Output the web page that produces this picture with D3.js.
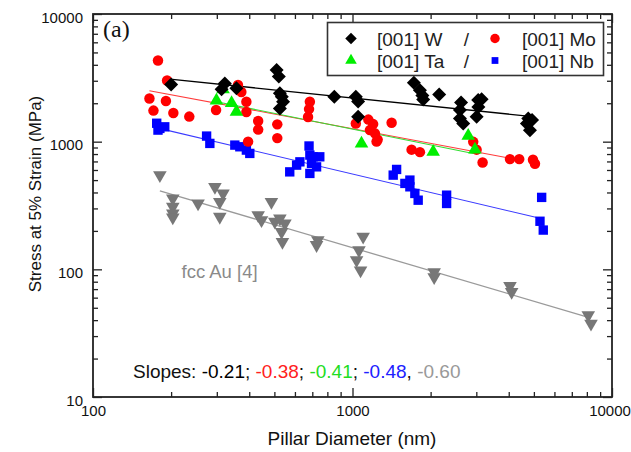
<!DOCTYPE html>
<html>
<head>
<meta charset="utf-8">
<script src="https://cdn.jsdelivr.net/npm/d3@7"></script>
<style>
  html, body { margin: 0; padding: 0; background: #fff; }
  svg { display: block; font-family: "Liberation Sans", Arial, Helvetica, sans-serif; }
</style>
</head>
<body>
<svg id="chart" width="631" height="452"></svg>
<script>
// ---- Data: pillar diameter (nm) vs. stress at 5% strain (MPa) ----
const wDiameter  = [200, 322, 313, 357, 510, 520, 525, 534, 540, 525, 851, 1030, 1051, 1051, 1724, 1819, 1859, 1872, 2158, 2620, 2594, 2594, 2671, 3051, 3145, 3008, 3055, 4757, 4920, 4700, 4829];
const wStress    = [2800, 2860, 2570, 2615, 3640, 3240, 2390, 2250, 2050, 1820, 2250, 2250, 2065, 1565, 2900, 2525, 2295, 2140, 2340, 2025, 1770, 1520, 1385, 2120, 2150, 1570, 1865, 1520, 1480, 1390, 1230];

const moDiameter = [178, 193, 165, 171, 191, 204, 235, 298, 362, 373, 390, 390, 433, 433, 396, 513, 513, 685, 680, 674, 1030, 1151, 1201, 1167, 1220, 1250, 1238, 1415, 1689, 1819, 2919, 3008, 3172, 4044, 4391, 4960, 5048];
const moStress   = [4320, 3010, 2176, 1752, 2080, 1676, 1572, 1768, 2776, 2446, 2053, 1706, 1450, 1243, 1001, 1366, 1066, 2053, 1800, 1560, 1386, 1489, 1373, 1232, 1162, 1038, 1001, 1405, 866, 828, 997, 866, 687, 730, 730, 722, 672];

const taDiameter = [299, 317, 342, 357, 1083, 2046, 2792, 2963];
const taStress   = [2099, 2568, 2006, 1715, 966, 833, 1112, 866];

const nbDiameter = [176, 181, 189, 178, 274, 282, 352, 368, 390, 402, 573, 609, 627, 680, 685, 705, 748, 695, 727, 685, 1479, 1435, 1592, 1664, 1664, 1739, 1791, 2305, 2305, 5357, 5278, 5434];
const nbStress   = [1394, 1270, 1307, 1232, 1106, 969, 940, 912, 859, 809, 580, 655, 695, 925, 785, 761, 761, 676, 635, 564, 606, 547, 471, 500, 443, 393, 348, 381, 328, 366, 238, 203];

const auDiameter = [181, 203, 203, 203, 203, 254, 295, 317, 308, 308, 433, 446, 487, 502, 525, 549, 533, 537, 727, 735, 1099, 1059, 1037, 1074, 2064, 2064, 4044, 4105, 8101, 8299];
const auStress   = [547, 359, 309, 274, 255, 328, 443, 393, 338, 258, 266, 243, 338, 236, 250, 229, 196, 164, 155, 169, 180, 141, 118, 98, 95, 87, 74, 66.5, 43.7, 37.6];

// Power-law fits: exponent, diameter range and stress at the first diameter
const fitNames   = ["W", "Mo", "Ta", "Nb", "Au"];
const fitSlopes  = [-0.21, -0.38, -0.41, -0.48, -0.60];
const fitStartD  = [198, 165, 299, 192, 181];
const fitEndD    = [5050, 4000, 2920, 5130, 8300];
const fitStartS  = [3090, 2505, 2057, 1232, 412];

// Axis ticks
const xMajorTicks = [100, 1000, 10000];
const xMinorTicks = [200, 300, 400, 500, 600, 700, 800, 900, 2000, 3000, 4000, 5000, 6000, 7000, 8000, 9000];
const yMajorTicks = [10, 100, 1000, 10000];
const yMinorTicks = [20, 30, 40, 50, 60, 70, 80, 90, 200, 300, 400, 500, 600, 700, 800, 900, 2000, 3000, 4000, 5000, 6000, 7000, 8000, 9000];

// ---- Layout & styling ----
const plot = { left: 93, right: 612, top: 14, bottom: 397 };
const style = {
  W:  { fill: "#000000", line: "#000000", lw: 1.3 },
  Mo: { fill: "#ff0000", line: "#ff3b3b", lw: 1.1 },
  Ta: { fill: "#00ee00", line: "#33dd33", lw: 1.1 },
  Nb: { fill: "#0000ff", line: "#3a3aff", lw: 1.1 },
  Au: { fill: "#777777", line: "#9a9a9a", lw: 1.3 }
};
const slopeColors = ["#000000", "#ff2020", "#22dd22", "#2020ff", "#999999"];

const svg = d3.select("#chart");
const x = d3.scaleLog().domain([100, 10000]).range([plot.left, plot.right]);
const y = d3.scaleLog().domain([10, 10000]).range([plot.bottom, plot.top]);

// ---- Axes (ticks pointing inward on all four sides) ----
function styleAxis(g) {
  g.select(".domain").remove();
  g.selectAll(".tick line").attr("stroke", "#222").attr("stroke-width", 1.3);
  g.selectAll(".tick text").attr("fill", "#111").style("font-size", "15px")
    .style("font-family", '"Liberation Sans", Arial, sans-serif');
}
const fmt = d3.format("d");

const xBottom = svg.append("g").attr("transform", `translate(0,${plot.bottom})`)
  .call(d3.axisBottom(x).tickValues(xMajorTicks).tickSize(-9).tickPadding(8).tickFormat(fmt)).call(styleAxis);
// keep the last label inside the canvas edge
xBottom.selectAll(".tick text").filter(d => d === 10000).attr("dx", -2.5);
svg.append("g").attr("transform", `translate(0,${plot.bottom})`)
  .call(d3.axisBottom(x).tickValues(xMinorTicks).tickSize(-5).tickFormat("")).call(styleAxis);
svg.append("g").attr("transform", `translate(0,${plot.top})`)
  .call(d3.axisTop(x).tickValues(xMajorTicks).tickSize(-9).tickFormat("")).call(styleAxis);
svg.append("g").attr("transform", `translate(0,${plot.top})`)
  .call(d3.axisTop(x).tickValues(xMinorTicks).tickSize(-5).tickFormat("")).call(styleAxis);

const yLeft = svg.append("g").attr("transform", `translate(${plot.left},0)`)
  .call(d3.axisLeft(y).tickValues(yMajorTicks).tickSize(-9).tickPadding(10).tickFormat(fmt)).call(styleAxis);
yLeft.selectAll(".tick text").attr("dy", "0.55em");
svg.append("g").attr("transform", `translate(${plot.left},0)`)
  .call(d3.axisLeft(y).tickValues(yMinorTicks).tickSize(-5).tickFormat("")).call(styleAxis);
svg.append("g").attr("transform", `translate(${plot.right},0)`)
  .call(d3.axisRight(y).tickValues(yMajorTicks).tickSize(-9).tickFormat("")).call(styleAxis);
svg.append("g").attr("transform", `translate(${plot.right},0)`)
  .call(d3.axisRight(y).tickValues(yMinorTicks).tickSize(-5).tickFormat("")).call(styleAxis);

// Frame
svg.append("rect")
  .attr("x", plot.left).attr("y", plot.top)
  .attr("width", plot.right - plot.left).attr("height", plot.bottom - plot.top)
  .attr("fill", "none").attr("stroke", "#222").attr("stroke-width", 1.8);

// ---- Fit lines ----
const fits = fitNames.map((name, i) => {
  const d0 = fitStartD[i], d1 = fitEndD[i], s0 = fitStartS[i];
  return { name, pts: [[d0, s0], [d1, s0 * Math.pow(d1 / d0, fitSlopes[i])]] };
});
svg.append("g").selectAll("line").data(fits).join("line")
  .attr("x1", f => x(f.pts[0][0])).attr("y1", f => y(f.pts[0][1]))
  .attr("x2", f => x(f.pts[1][0])).attr("y2", f => y(f.pts[1][1]))
  .attr("stroke", f => style[f.name].line)
  .attr("stroke-width", f => style[f.name].lw);

// ---- Markers ----
const zip = (ds, ss) => ds.map((d, i) => ({ d, s: ss[i] }));
const series = [
  { name: "Au", pts: zip(auDiameter, auStress), sym: d3.symbolTriangle, size: 80, rot: 180 },
  { name: "Nb", pts: zip(nbDiameter, nbStress), sym: d3.symbolSquare, size: 88, rot: 0 },
  { name: "Mo", pts: zip(moDiameter, moStress), sym: d3.symbolCircle, size: 86, rot: 0 },
  { name: "Ta", pts: zip(taDiameter, taStress), sym: d3.symbolTriangle, size: 80, rot: 0 },
  { name: "W",  pts: zip(wDiameter, wStress),  sym: d3.symbolSquare, size: 98, rot: 45 }
];
series.forEach(sr => {
  svg.append("g").selectAll("path").data(sr.pts).join("path")
    .attr("d", d3.symbol().type(sr.sym).size(sr.size))
    .attr("transform", p => `translate(${x(p.d)},${y(p.s)}) rotate(${sr.rot})`)
    .attr("fill", style[sr.name].fill);
});

// ---- Legend ----
const lg = svg.append("g");
lg.append("rect").attr("x", 327.5).attr("y", 22.5).attr("width", 276).attr("height", 53)
  .attr("fill", "#fff").attr("stroke", "#333").attr("stroke-width", 1.6);
const legendRows = [
  [{ name: "W", label: "[001] W", sym: d3.symbolSquare, size: 66, rot: 45 },
   { name: "Mo", label: "[001] Mo", sym: d3.symbolCircle, size: 70, rot: 0 }],
  [{ name: "Ta", label: "[001] Ta", sym: d3.symbolTriangle, size: 58, rot: 0 },
   { name: "Nb", label: "[001] Nb", sym: d3.symbolSquare, size: 46, rot: 0 }]
];
const rowY = [38.5, 60.5];
legendRows.forEach((row, r) => {
  row.forEach((item, c) => {
    const sx = c === 0 ? 351 : 495;
    const tx = c === 0 ? 377 : 522;
    lg.append("path").attr("d", d3.symbol().type(item.sym).size(item.size))
      .attr("transform", `translate(${sx},${rowY[r]}) rotate(${item.rot})`)
      .attr("fill", style[item.name].fill);
    lg.append("text").attr("x", tx).attr("y", rowY[r] + 7.3)
      .attr("fill", "#222").style("font-size", "19px").text(item.label);
  });
  lg.append("text").attr("x", 466.5).attr("y", rowY[r] + 7.3).attr("text-anchor", "middle")
    .attr("fill", "#222").style("font-size", "19px").text("/");
});

// ---- Annotations ----
svg.append("text").attr("x", 103).attr("y", 37)
  .style("font-family", '"Liberation Serif", "Times New Roman", serif')
  .style("font-size", "24px").attr("fill", "#111").text("(a)");

svg.append("text").attr("x", 181.5).attr("y", 278)
  .style("font-size", "18.5px").attr("fill", "#8a8a8a").text("fcc Au [4]");

const slopeText = svg.append("text").attr("x", 133).attr("y", 378)
  .style("font-size", "19px").attr("fill", "#111");
slopeText.append("tspan").text("Slopes: ");
fitSlopes.forEach((s, i) => {
  slopeText.append("tspan").attr("fill", slopeColors[i]).text(s.toFixed(2));
  if (i < fitSlopes.length - 1) {
    slopeText.append("tspan").attr("fill", "#111").text(i === 3 ? ", " : "; ");
  }
});

// Axis titles
svg.append("text").attr("x", 352).attr("y", 445).attr("text-anchor", "middle")
  .style("font-size", "19px").attr("fill", "#111").text("Pillar Diameter (nm)");
svg.append("text").attr("transform", "translate(40.5,194) rotate(-90)")
  .attr("text-anchor", "middle").style("font-size", "17px").attr("fill", "#111")
  .text("Stress at 5% Strain (MPa)");
</script>
</body>
</html>
